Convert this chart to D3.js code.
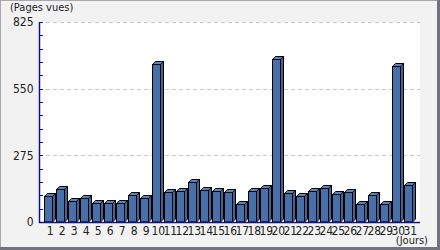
<!DOCTYPE html>
<html><head><meta charset="utf-8">
<script src="https://cdnjs.cloudflare.com/ajax/libs/d3/7.8.5/d3.min.js"></script>
<style>body{margin:0;background:#fff}svg{display:block}</style>
</head><body>
<script>
const days = d3.range(1, 32).map(String);
const pageViews = [107,135,87,98,80,80,80,111,98,652,122,127,164,131,127,122,76,127,140,672,118,106,127,139,117,122,76,111,76,643,154];
const yTicks = [0,275,550,825];
const yMinorStep = 55;

const W = 440, H = 250;
const pLeft = 39, pRight = 420, pTop = 22, pBottom = 222;
const font = "'Liberation Sans Narrow','DejaVu Sans Condensed',sans-serif";

const svg = d3.select("body").append("svg").attr("width", W).attr("height", H);
svg.append("rect").attr("x",0).attr("y",0).attr("width",W).attr("height",H).attr("fill","#f2f2f2");
// frame
svg.append("rect").attr("x",0.5).attr("y",0.5).attr("width",W-3).attr("height",H-3).attr("fill","none").attr("stroke","#a8a8b0");
svg.append("rect").attr("x",W-3).attr("y",0).attr("width",3).attr("height",H).attr("fill","#727280");
svg.append("rect").attr("x",0).attr("y",H-3).attr("width",W).attr("height",3).attr("fill","#727280");

svg.append("rect").attr("x",pLeft).attr("y",pTop).attr("width",pRight-pLeft).attr("height",pBottom-pTop).attr("fill","#fff");

const x = d3.scaleBand().domain(days).range([42.3, 414.3]).paddingInner(1/3).paddingOuter(1/6);
const y = d3.scaleLinear().domain([0, 825]).range([pBottom, pTop]);

// grid
svg.append("g").selectAll("line").data(yTicks.filter(t=>t>0)).join("line")
  .attr("x1", pLeft).attr("x2", pRight)
  .attr("y1", d=>Math.round(y(d))+0.5).attr("y2", d=>Math.round(y(d))+0.5)
  .attr("stroke","#c8c8c8").attr("stroke-dasharray","4,3");

// bars
const dep = 3;
const bw = x.bandwidth();
const g = svg.append("g");
days.forEach((d,i)=>{
  const x0 = Math.round(x(d)) + 0.5, x1 = x0 + Math.round(bw);
  const yt = Math.round(y(pageViews[i])) + 0.5, yb = pBottom;
  g.append("path").attr("d",`M${x0},${yt}L${x0+dep},${yt-dep}L${x1+dep},${yt-dep}L${x1},${yt}Z`)
    .attr("fill","#5d85bd").attr("stroke","#000").attr("stroke-width",1).attr("stroke-linejoin","round");
  g.append("path").attr("d",`M${x1},${yt}L${x1+dep},${yt-dep}L${x1+dep},${yb-dep}L${x1},${yb}Z`)
    .attr("fill","#3f6498").attr("stroke","#000").attr("stroke-width",1).attr("stroke-linejoin","round");
  g.append("rect").attr("x",x0).attr("y",yt).attr("width",x1-x0).attr("height",yb-yt)
    .attr("fill","#4870a8").attr("stroke","#000").attr("stroke-width",1);
});

// y axis
const yAxis = d3.axisLeft(y).tickValues(yTicks).tickSize(0).tickPadding(6);
const ya = svg.append("g").attr("transform",`translate(${pLeft+0.5},0)`).call(yAxis);
ya.select(".domain").remove();
ya.selectAll("text").attr("font-family",font).attr("font-size",12).attr("fill","#222");
svg.append("g").selectAll("line").data(d3.range(0, 826, yMinorStep)).join("line")
  .attr("x1", pLeft).attr("x2", pLeft+4)
  .attr("y1", d=>Math.round(y(d))+0.5).attr("y2", d=>Math.round(y(d))+0.5)
  .attr("stroke","#10108a");
svg.append("line").attr("x1",pLeft+0.5).attr("x2",pLeft+0.5).attr("y1",pTop).attr("y2",pBottom+1).attr("stroke","#10108a").attr("stroke-width",1.5);

// x axis
const xAxis = d3.axisBottom(x).tickSize(0).tickPadding(4);
const xa = svg.append("g").attr("transform",`translate(${(dep+1)/2},${pBottom})`).call(xAxis);
xa.select(".domain").remove();
xa.selectAll("text").attr("font-family",font).attr("font-size",12).attr("fill","#222");
svg.append("line").attr("x1",pLeft).attr("x2",pRight).attr("y1",pBottom+0.5).attr("y2",pBottom+0.5).attr("stroke","#10108a").attr("stroke-width",1.5);

svg.append("text").attr("x",10).attr("y",11).attr("font-family",font).attr("font-size",11).attr("fill","#222").text("(Pages vues)");
svg.append("text").attr("x",428).attr("y",244).attr("text-anchor","end").attr("font-family",font).attr("font-size",11).attr("fill","#222").text("(Jours)");
</script>
</body></html>
